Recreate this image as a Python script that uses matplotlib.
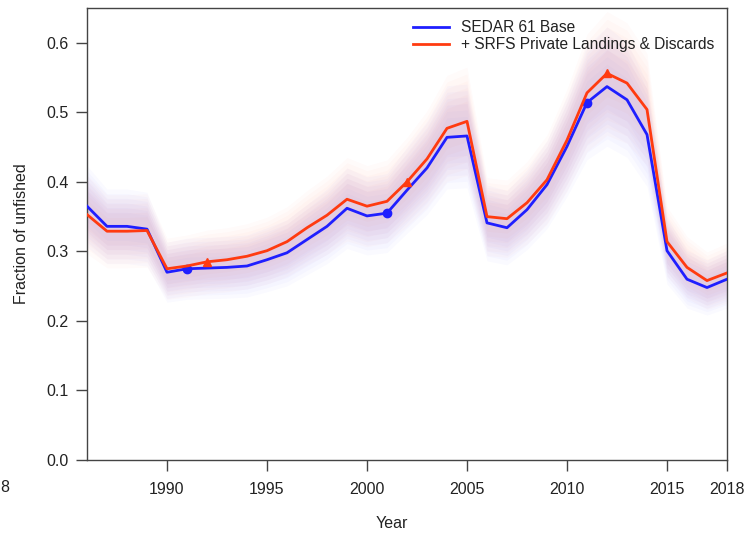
import numpy as np
import matplotlib
matplotlib.use("Agg")
import matplotlib.pyplot as plt

plt.rcParams['font.family'] = ['Liberation Sans', 'DejaVu Sans']

years = list(range(1986, 2019))

# SEDAR 61 Base
base = [0.365, 0.336, 0.336, 0.332, 0.270, 0.275, 0.276, 0.277, 0.279, 0.288,
        0.298, 0.317, 0.336, 0.362, 0.351, 0.355, 0.388, 0.420, 0.464, 0.466,
        0.341, 0.334, 0.360, 0.396, 0.451, 0.514, 0.537, 0.518, 0.468, 0.301,
        0.260, 0.248, 0.260]

# + SRFS Private Landings & Discards
srfs = [0.353, 0.329, 0.329, 0.330, 0.275, 0.279, 0.285, 0.288, 0.293, 0.301,
        0.314, 0.334, 0.352, 0.375, 0.365, 0.372, 0.400, 0.433, 0.477, 0.487,
        0.350, 0.347, 0.370, 0.403, 0.460, 0.528, 0.556, 0.542, 0.504, 0.314,
        0.277, 0.258, 0.269]

labels = ["SEDAR 61 Base", "+ SRFS Private Landings & Discards"]
colors = ["#1f1fff", "#ff3b10"]
markers = ["o", "^"]
mark_years = [[1991, 2001, 2011], [1992, 2002, 2012]]
xticks = [1990, 1995, 2000, 2005, 2010, 2015, 2018]
yticks = [0.0, 0.1, 0.2, 0.3, 0.4, 0.5, 0.6]

fig = plt.figure(figsize=(7.44, 5.35), dpi=100)
ax = fig.add_axes([87 / 744, 1 - 460 / 535, 640 / 744, 452 / 535])

yr = np.array(years)
for series, col in zip([base, srfs], colors):
    s = np.array(series)
    # blurry uncertainty band, layered to look soft
    for w in [0.16, 0.14, 0.12, 0.10, 0.08, 0.06]:
        ax.fill_between(yr, s * (1 - w), s * (1 + w),
                        color=col, alpha=0.02, lw=0, zorder=1)

for series, col, m, my, lab in zip([base, srfs], colors, markers, mark_years, labels):
    idx = [years.index(v) for v in my]
    ax.plot(years, series, color=col, lw=2.0, label=lab, zorder=3,
            marker=m, markevery=idx, markersize=6, markerfacecolor=col,
            markeredgecolor=col)

ax.set_xlim(1986, 2018)
ax.set_ylim(0, 0.65)
ax.set_xticks(xticks)
ax.set_yticks(yticks)
ax.set_yticklabels([f"{v:.1f}" for v in yticks])
ax.tick_params(axis='both', direction='out', length=8, width=1, labelsize=11.5,
               color='#444444', labelcolor='#222222')
ax.tick_params(axis='x', pad=8)
ax.tick_params(axis='y', pad=5)
for sp in ax.spines.values():
    sp.set_color('#444444')
    sp.set_linewidth(1.0)

ax.set_ylabel("Fraction of unfished", fontsize=11.5, color='#222222', labelpad=13)
fig.text(392 / 744, 1 - 523 / 535, "Year", fontsize=11.5, color='#222222',
         ha='center', va='center')
fig.text(9 / 744, 1 - 488 / 535, "8", fontsize=11.5, color='#222222',
         ha='right', va='center')

leg = ax.legend(loc='upper right', bbox_to_anchor=(1.0, 1.0), frameon=False,
                fontsize=11.2, handlelength=2.3, handletextpad=0.8,
                labelspacing=0.1, borderaxespad=0.4)
for t in leg.get_texts():
    t.set_color('#222222')
for h in leg.legend_handles:
    h.set_marker('')

fig.savefig("out.png", dpi=100)
